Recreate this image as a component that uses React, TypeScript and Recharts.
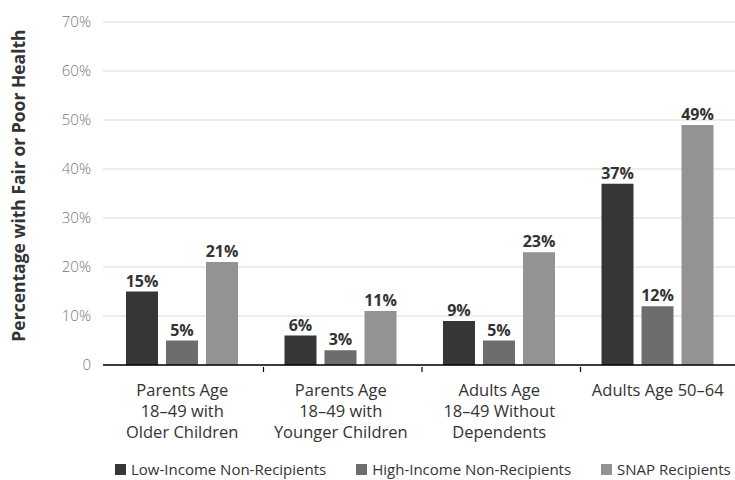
import React from 'react';
import { BarChart, Bar, XAxis, YAxis, CartesianGrid, Legend, LabelList, Label } from 'recharts';

const groups = [
  'Parents Age\n18–49 with\nOlder Children',
  'Parents Age\n18–49 with\nYounger Children',
  'Adults Age\n18–49 Without\nDependents',
  'Adults Age 50–64',
];
const lowIncome = [15, 6, 9, 37];
const highIncome = [5, 3, 5, 12];
const snap = [21, 11, 23, 49];
const yTicks = [0, 10, 20, 30, 40, 50, 60, 70];

const seriesInfo = [
  { key: 'low', name: 'Low-Income Non-Recipients', color: '#363636' },
  { key: 'high', name: 'High-Income Non-Recipients', color: '#6d6d6d' },
  { key: 'snap', name: 'SNAP Recipients', color: '#939393' },
];

const data = groups.map((g, i) => ({
  group: g,
  low: lowIncome[i],
  high: highIncome[i],
  snap: snap[i],
}));

const FONT = '"Open Sans", sans-serif';

const GroupTick = (props: any) => {
  const { x, y, payload, index, visibleTicksCount } = props;
  const band = 634 / groups.length;
  const lines = String(payload.value).split('\n');
  return (
    <g>
      {index < visibleTicksCount - 1 && (
        <line x1={x + band / 2 + 2} x2={x + band / 2 + 2} y1={y - 6} y2={y - 1} stroke="#000" strokeWidth={1.2} />
      )}
      <text x={x} y={y + 23} textAnchor="middle" fill="#333" fontSize={16.5} fontFamily={FONT}>
        {lines.map((l, i) => (
          <tspan key={i} x={x} dy={i === 0 ? 0 : 21}>
            {l}
          </tspan>
        ))}
      </text>
    </g>
  );
};

// legend sits under the plot area rather than the full chart width
const LegendBox = () => (
  <div
    style={{
      display: 'flex',
      justifyContent: 'flex-start',
      gap: 30,
      fontFamily: FONT,
      fontSize: 15,
      color: '#333',
      paddingTop: 14,
      paddingLeft: 115,
    }}
  >
    {seriesInfo.map((s) => (
      <div key={s.key} style={{ display: 'flex', alignItems: 'center' }}>
        <span style={{ width: 11, height: 11, background: s.color, marginRight: 5, display: 'inline-block' }} />
        {s.name}
      </div>
    ))}
  </div>
);

const YTitle = (props: any) => {
  const { viewBox } = props;
  const cy = viewBox.y + viewBox.height / 2 - 8;
  return (
    <text
      x={25}
      y={cy}
      transform={`rotate(-90, 25, ${cy})`}
      textAnchor="middle"
      fill="#333"
      fontSize={17.5}
      fontWeight={700}
      fontFamily={FONT}
    >
      Percentage with Fair or Poor Health
    </text>
  );
};

export default function App() {
  return (
    <div style={{ position: 'absolute', left: 0, top: 0, width: 735, height: 480, overflow: 'hidden', background: '#fff' }}>
      <BarChart
        width={737}
        height={480}
        data={data}
        margin={{ top: 22, right: 0, left: 0, bottom: 0 }}
        barSize={32}
        barGap={8}
      >
        <CartesianGrid vertical={false} stroke="#dcdcdc" strokeWidth={1.2} />
        <XAxis
          dataKey="group"
          height={80}
          interval={0}
          tickLine={false}
          axisLine={{ stroke: '#000', strokeWidth: 1.5 }}
          tick={<GroupTick />}
        />
        <YAxis
          width={103}
          domain={[0, 70]}
          ticks={yTicks}
          axisLine={false}
          tickLine={false}
          tickMargin={6}
          tickFormatter={(v: number) => (v === 0 ? '0' : `${v}%`)}
          tick={{ fill: '#777', fontSize: 15, fontFamily: FONT, fontWeight: 300 }}
        >
          <Label content={<YTitle />} />
        </YAxis>
        <Legend verticalAlign="bottom" height={35} content={<LegendBox />} />
        {seriesInfo.map((s) => (
          <Bar key={s.key} dataKey={s.key} name={s.name} fill={s.color} isAnimationActive={false}>
            <LabelList
              dataKey={s.key}
              position="top"
              offset={5}
              formatter={(v: number) => `${v}%`}
              style={{ fill: '#333', fontSize: 16, fontWeight: 700, fontFamily: FONT }}
            />
          </Bar>
        ))}
      </BarChart>
    </div>
  );
}
